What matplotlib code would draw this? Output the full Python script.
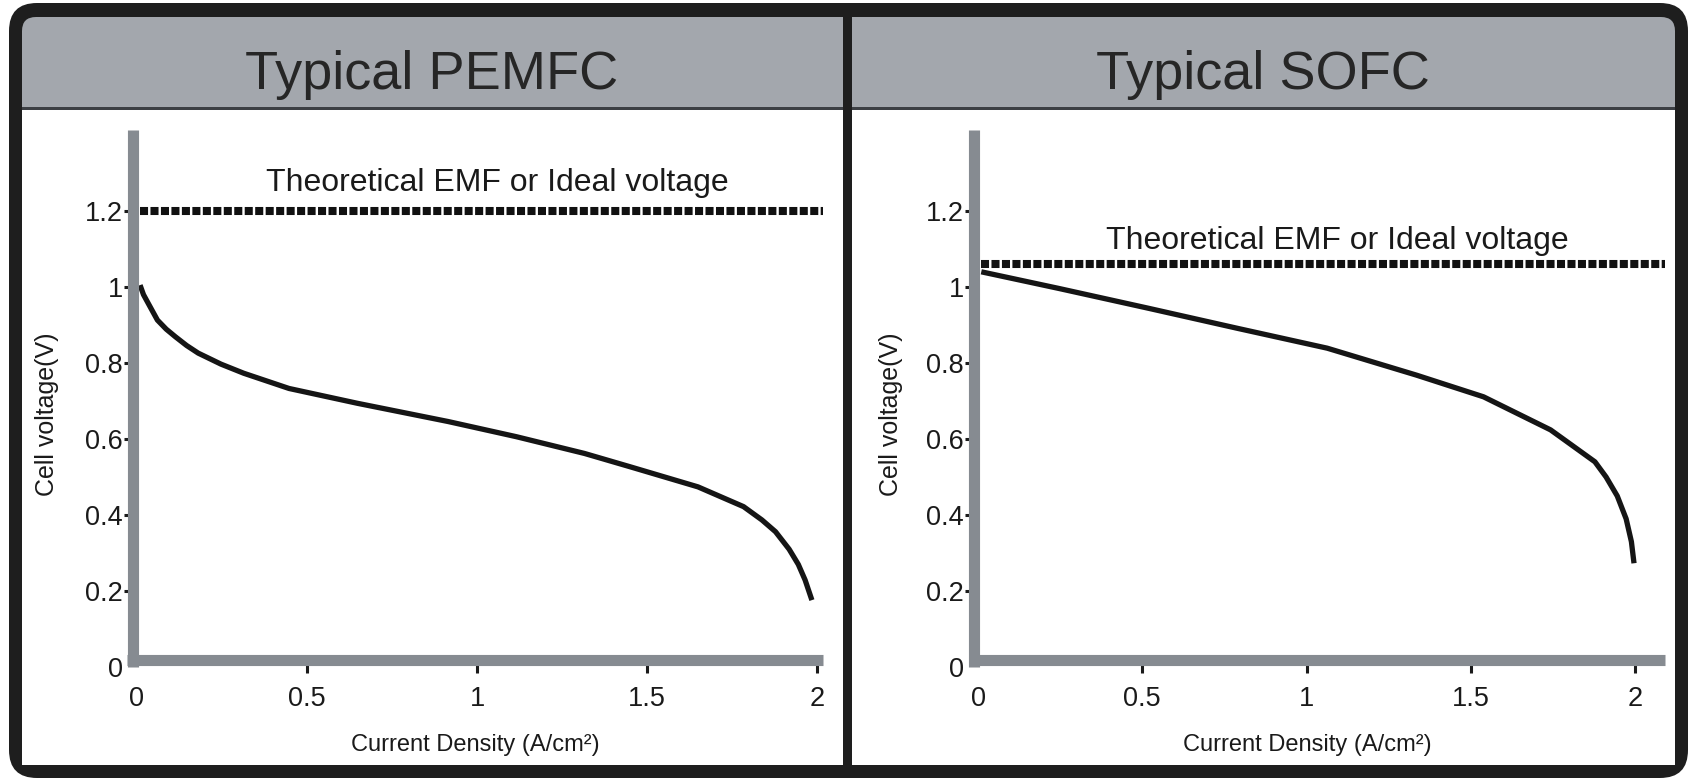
import matplotlib
matplotlib.use("Agg")
import matplotlib.pyplot as plt
from matplotlib.patches import FancyBboxPatch, Rectangle
from matplotlib.transforms import IdentityTransform

# chart data
titles = ["Typical PEMFC", "Typical SOFC"]
x_ticks = [0, 0.5, 1, 1.5, 2]
x_tick_labels = ["0", "0.5", "1", "1.5", "2"]
y_ticks = [0, 0.2, 0.4, 0.6, 0.8, 1.0, 1.2]
y_tick_labels = ["0", "0.2", "0.4", "0.6", "0.8", "1", "1.2"]
emf_label = "Theoretical EMF or Ideal voltage"
emf_values = [1.2, 1.06]

pem_j = [0.009, 0.019, 0.033, 0.060, 0.086, 0.113, 0.146, 0.18, 0.247, 0.314, 0.447,
         0.648, 0.915, 1.116, 1.316, 1.45, 1.65, 1.784, 1.838, 1.878, 1.918, 1.945,
         1.965, 1.985]
pem_v = [1.005, 0.98, 0.957, 0.913, 0.889, 0.869, 0.846, 0.826, 0.797, 0.773, 0.733,
         0.694, 0.646, 0.606, 0.562, 0.527, 0.474, 0.422, 0.387, 0.356, 0.31, 0.27,
         0.229, 0.176]

sofc_j = [0.010, 0.247, 0.519, 0.791, 1.063, 1.335, 1.539, 1.743, 1.878, 1.912,
          1.946, 1.973, 1.989, 1.997]
sofc_v = [1.040, 0.996, 0.944, 0.891, 0.839, 0.768, 0.711, 0.624, 0.54, 0.50,
          0.45, 0.39, 0.33, 0.273]

W, H = 1694, 782
plt.rcParams["font.family"] = ["Liberation Sans", "DejaVu Sans"]

fig = plt.figure(figsize=(W / 100, H / 100), dpi=100)
fig.patch.set_facecolor("white")
px = IdentityTransform()


def box(x0, y0, x1, y1, color, z, rounded=0):
    # pixel box, y measured from the top
    if rounded:
        p = FancyBboxPatch((x0, H - y1), x1 - x0, y1 - y0,
                           boxstyle=f"round,pad=0,rounding_size={rounded}",
                           fc=color, ec="none", transform=px, zorder=z)
    else:
        p = Rectangle((x0, H - y1), x1 - x0, y1 - y0, fc=color, ec="none",
                      transform=px, zorder=z)
    fig.add_artist(p)


# frame, header band and divider
box(9, 3, 1688, 778, "#1e1e1e", -10, rounded=28)
box(22, 17, 1675, 765, "#a3a7ad", -9, rounded=14)
box(22, 108, 1675, 765, "white", -8)
box(22, 107, 1675, 110, "#3c3f44", -7)
box(843, 17, 852, 765, "#1e1e1e", -6)

bar_grey = "#868b91"
panels = [
    dict(x0=137, sx=340, xend=2.018, title_x=432, lab_x=475, ylab_x=47,
         j=pem_j, v=pem_v, emf=emf_values[0], emf_end=2.018, txt=(1.06, 1.253)),
    dict(x0=978, sx=328.5, xend=2.09, title_x=1263, lab_x=1307, ylab_x=891,
         j=sofc_j, v=sofc_v, emf=emf_values[1], emf_end=2.09, txt=(1.094, 1.10)),
]
y0, sy = 667, 380
xlim = (-0.15, 2.15)
ylim = (-0.1, 1.45)

for i, p in enumerate(panels):
    left = p["x0"] + xlim[0] * p["sx"]
    right = p["x0"] + xlim[1] * p["sx"]
    top = y0 - ylim[1] * sy
    bottom = y0 - ylim[0] * sy
    ax = fig.add_axes([left / W, 1 - bottom / H, (right - left) / W, (bottom - top) / H])
    ax.patch.set_visible(False)
    ax.set_xlim(*xlim)
    ax.set_ylim(*ylim)

    for s in ["top", "right"]:
        ax.spines[s].set_visible(False)
    ax.spines["left"].set_position(("data", -0.012))
    ax.spines["left"].set_bounds(0, 1.413)
    ax.spines["bottom"].set_position(("data", 0.018))
    ax.spines["bottom"].set_bounds(-0.028, p["xend"])
    for s in ["left", "bottom"]:
        ax.spines[s].set_linewidth(8)
        ax.spines[s].set_color(bar_grey)
        ax.spines[s].set_capstyle("butt")

    ax.set_xticks(x_ticks)
    ax.set_xticklabels(x_tick_labels)
    ax.set_yticks(y_ticks)
    ax.set_yticklabels(y_tick_labels)
    ax.tick_params(axis="y", direction="out", length=6.2, width=2.2, pad=1.2,
                   labelsize=19.5, colors="#1a1a1a")
    ax.tick_params(axis="x", direction="out", length=9.7, width=2.2, pad=9,
                   labelsize=19.5, colors="#1a1a1a")
    ax.xaxis.get_major_ticks()[0].tick1line.set_visible(False)
    ax.yaxis.get_major_ticks()[0].tick1line.set_visible(False)

    ax.hlines(p["emf"], 0.01, p["emf_end"], colors="#111111", linewidth=5.8,
              linestyles=(0, (1.0, 0.3)), capstyle="butt")
    ax.text(p["txt"][0], p["txt"][1], emf_label, ha="center", va="baseline",
            fontsize=23, color="#1a1a1a")
    ax.plot(p["j"], p["v"], color="#151515", linewidth=3.8,
            solid_capstyle="butt", solid_joinstyle="round")

    ax.set_xlabel("Current Density (A/cm²)", fontsize=17, color="#1a1a1a")
    ax.xaxis.set_label_coords(p["lab_x"], H - 745, transform=px)
    ax.xaxis.label.set_va("center")
    ax.set_ylabel("Cell voltage(V)", fontsize=18, color="#1a1a1a")
    ax.yaxis.set_label_coords(p["ylab_x"], H - 414, transform=px)
    ax.yaxis.label.set_va("center")

    fig.text(p["title_x"] / W, 1 - 88.5 / H, titles[i], ha="center", va="baseline",
             fontsize=39, color="#262626")

fig.savefig("out.png", dpi=100)
